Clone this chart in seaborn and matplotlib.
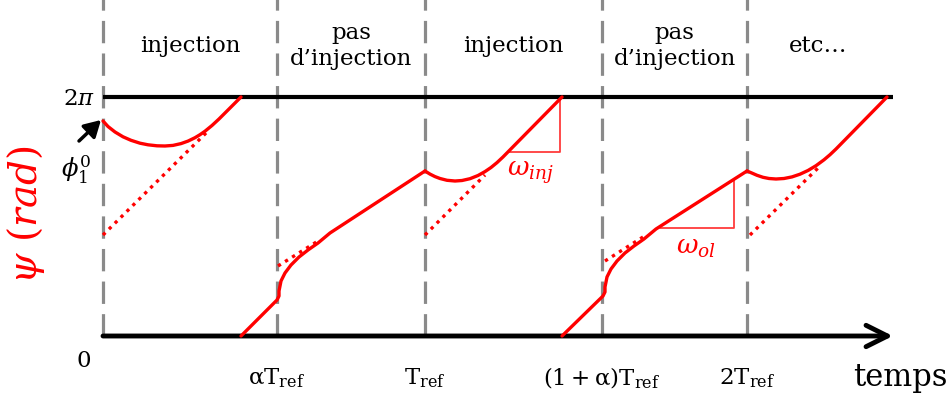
import pandas as pd
import matplotlib
matplotlib.use("Agg")
import matplotlib.pyplot as plt
import seaborn as sns

# ---------------- data (time in units of T_ref, psi in units of 2*pi) -------------
boundaries = [0.0, 0.54, 1.0, 1.55, 2.0]
boundary_labels = ["", r"$\mathrm{\alpha T_{ref}}$", r"$\mathrm{T_{ref}}$",
                   r"$\mathrm{(1+\alpha)T_{ref}}$", r"$\mathrm{2T_{ref}}$"]
phase_labels = ["injection", "pas\nd’injection", "injection", "pas\nd’injection", "etc…"]
phase_end = 2.44
axis_end = 2.453

# injection phases (solid)
inj1_t = [0.0, 0.0155, 0.0373, 0.0621, 0.0870, 0.1149, 0.1398, 0.1677, 0.1925, 0.2174,
          0.2422, 0.2640, 0.2857, 0.3012, 0.3168, 0.3385, 0.3602, 0.4286]
inj1_psi = [0.8996, 0.8766, 0.8536, 0.8335, 0.8188, 0.8067, 0.8000, 0.7958, 0.7950, 0.7975,
            0.8050, 0.8155, 0.8297, 0.8423, 0.8569, 0.8808, 0.9079, 1.0]
inj2_t = [1.0, 1.0155, 1.0311, 1.0466, 1.0683, 1.0932, 1.1149, 1.1398, 1.1646, 1.1863,
          1.2050, 1.2236, 1.2422, 1.4255]
inj2_psi = [0.6904, 0.6774, 0.6669, 0.6590, 0.6515, 0.6485, 0.6506, 0.6582, 0.6715, 0.6879,
            0.7050, 0.7255, 0.7490, 1.0]
inj3_t = [2.0, 2.0155, 2.0311, 2.0497, 2.0683, 2.0901, 2.1149, 2.1398, 2.1646, 2.1894,
          2.2143, 2.2391, 2.2578, 2.2764, 2.4348]
inj3_psi = [0.6904, 0.6816, 0.6724, 0.6640, 0.6590, 0.6569, 0.6590, 0.6657, 0.6770, 0.6925,
            0.7126, 0.7372, 0.7586, 0.7824, 1.0]

# free-running phases (solid, starting after the 2*pi wrap)
ol1_t = [0.4286, 0.5404, 0.5466, 0.5466, 0.5497, 0.5528, 0.5590, 0.5652, 0.5745, 0.5839,
         0.6087, 0.6366, 0.6677, 0.7050, 1.0]
ol1_psi = [0.0, 0.1506, 0.1674, 0.1883, 0.2092, 0.2301, 0.2469, 0.2636, 0.2803, 0.2971,
           0.3305, 0.3598, 0.3891, 0.4310, 0.6904]
ol2_t = [1.4255, 1.5528, 1.5590, 1.5590, 1.5621, 1.5652, 1.5714, 1.5776, 1.5870, 1.5963,
         1.6211, 1.6491, 1.6801, 1.7174, 2.0]
ol2_psi = [0.0, 0.1674, 0.1841, 0.2050, 0.2259, 0.2469, 0.2636, 0.2803, 0.2971, 0.3138,
           0.3473, 0.3766, 0.4059, 0.4477, 0.6904]

# dotted asymptotes
dot_t = [[0.0, 0.3261], [0.5435, 0.6677], [1.0, 1.1863], [1.5590, 1.6770], [2.0093, 2.2205]]
dot_psi = [[0.4226, 0.8577], [0.2929, 0.3975], [0.4226, 0.6736], [0.3138, 0.4142], [0.4226, 0.7029]]

# slope triangles
tri_inj_t = [1.2578, 1.4193, 1.4193]
tri_inj_psi = [0.7699, 0.7699, 0.9874]
tri_ol_t = [1.7298, 1.9606, 1.9606]
tri_ol_psi = [0.4519, 0.4519, 0.6569]

# ---------------- build tables ----------------
solid = pd.concat([
    pd.DataFrame({"t": t, "psi": p, "seg": name})
    for name, t, p in [("inj1", inj1_t, inj1_psi), ("ol1", ol1_t, ol1_psi),
                       ("inj2", inj2_t, inj2_psi), ("ol2", ol2_t, ol2_psi),
                       ("inj3", inj3_t, inj3_psi)]
], ignore_index=True)
dotted = pd.concat([
    pd.DataFrame({"t": t, "psi": p, "seg": i}) for i, (t, p) in enumerate(zip(dot_t, dot_psi))
], ignore_index=True)
tris = pd.concat([
    pd.DataFrame({"t": tri_inj_t, "psi": tri_inj_psi, "seg": "inj"}),
    pd.DataFrame({"t": tri_ol_t, "psi": tri_ol_psi, "seg": "ol"}),
], ignore_index=True)

# ---------------- figure ----------------
sns.set_theme(style="white")
plt.rcParams["font.family"] = ["DejaVu Serif", "DejaVu Sans"]
plt.rcParams["mathtext.fontset"] = "dejavuserif"
plt.rcParams["text.color"] = "black"

W, H = 952, 402
fig = plt.figure(figsize=(W / 100, H / 100), dpi=100)
ax = fig.add_axes([0, 0, 1, 1])
X0, XS = 103, 322   # pixel of t=0, pixels per T_ref
Y0, YS = 337, 239   # pixel of psi=0, pixels per 2pi


def px(x, y):
    return (x - X0) / XS, (Y0 - y) / YS


# vertical dashed phase boundaries
ax.vlines(boundaries, 0, Y0 / YS, colors="#8a8a8a", linewidth=2.3,
          linestyles=[(0, (7.0, 3.2))], zorder=1)
# 2pi line
ax.plot([0, axis_end], [1, 1], color="black", lw=3.0, solid_capstyle="butt", zorder=2)
# time axis with arrow
ax.annotate("", xy=(axis_end, 0), xytext=(0, 0),
            arrowprops=dict(arrowstyle="->,head_length=1.1,head_width=0.55",
                            lw=3.5, color="black", mutation_scale=14,
                            shrinkA=0, shrinkB=0), zorder=2)

# curves
sns.lineplot(data=dotted, x="t", y="psi", units="seg", estimator=None, sort=False,
             color="red", lw=2.4, linestyle=(0, (1, 1.5)), ax=ax, legend=False, zorder=3)
sns.lineplot(data=solid, x="t", y="psi", units="seg", estimator=None, sort=False,
             color="red", lw=2.4, ax=ax, legend=False, zorder=4)
sns.lineplot(data=tris, x="t", y="psi", units="seg", estimator=None, sort=False,
             color="#ff3b3b", lw=1.3, ax=ax, legend=False, zorder=3)
ax.set_xlim(-X0 / XS, (W - X0) / XS)
ax.set_ylim(-(H - Y0) / YS, Y0 / YS)
ax.axis("off")

# phase labels
edges = boundaries + [phase_end]
for i, lab in enumerate(phase_labels):
    xc = (edges[i] + edges[i + 1]) / 2
    ax.text(xc, px(0, 46)[1], lab, ha="center", va="center", fontsize=16.5,
            linespacing=1.25, color="black")

# time tick labels
for b, lab in zip(boundaries, boundary_labels):
    if lab:
        ax.text(b, px(0, 378)[1], lab, ha="center", va="center", fontsize=16.5)
ax.text(*px(900, 378), "temps", ha="center", va="center", fontsize=22)
ax.text(*px(84, 361), "0", ha="center", va="center", fontsize=16.5)
ax.text(*px(95, 99), r"$2\pi$", ha="right", va="center", fontsize=16.5)
ax.text(*px(76, 170), r"$\phi_1^0$", ha="center", va="center", fontsize=17.5)
ax.annotate("", xy=px(101, 121), xytext=px(79, 142),
            arrowprops=dict(arrowstyle="-|>,head_length=0.7,head_width=0.4",
                            lw=2.5, color="black", mutation_scale=14,
                            shrinkA=0, shrinkB=0))
ax.text(*px(26, 215), r"$\psi\ (rad)$", ha="center", va="center", rotation=90,
        fontsize=28, color="red")

# slope labels
ax.text(*px(507, 159), r"$\omega_{inj}$", ha="left", va="top", fontsize=19, color="red")
ax.text(*px(676, 235), r"$\omega_{ol}$", ha="left", va="top", fontsize=19, color="red")

fig.savefig("out.png", dpi=100)
